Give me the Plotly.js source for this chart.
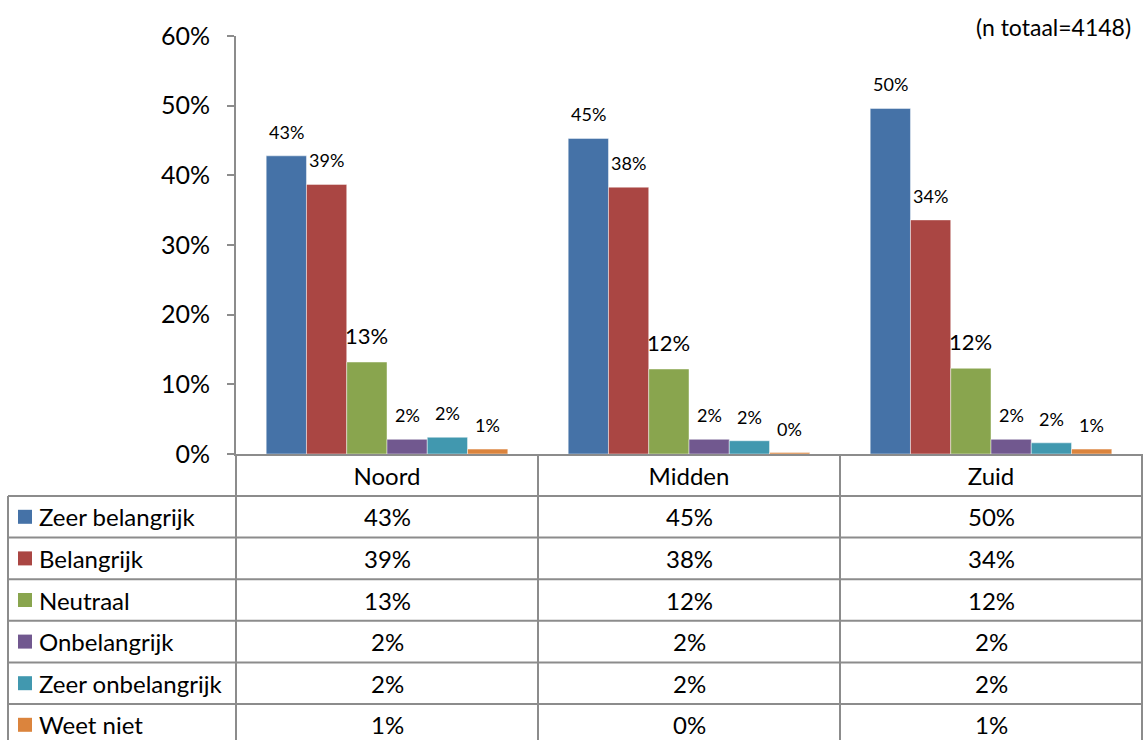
<!DOCTYPE html>
<html>
<head>
<meta charset="utf-8">
<script src="https://cdn.plot.ly/plotly-3.0.1.min.js"></script>
<style>html,body{margin:0;padding:0;background:#fff;}#chart{width:1143px;height:740px;}</style>
</head>
<body>
<div id="chart"></div>
<script>
// ---- data ----
var regions = ["Noord", "Midden", "Zuid"];
var seriesNames = ["Zeer belangrijk", "Belangrijk", "Neutraal", "Onbelangrijk", "Zeer onbelangrijk", "Weet niet"];
var zeerBelangrijk = [42.8, 45.3, 49.6];
var belangrijk = [38.7, 38.3, 33.6];
var neutraal = [13.2, 12.2, 12.3];
var onbelangrijk = [2.1, 2.1, 2.1];
var zeerOnbelangrijk = [2.4, 1.9, 1.6];
var weetNiet = [0.7, 0.2, 0.7];
var yTicks = [0, 10, 20, 30, 40, 50, 60];
var noteText = "(n totaal=4148)";

var seriesValues = [zeerBelangrijk, belangrijk, neutraal, onbelangrijk, zeerOnbelangrijk, weetNiet];
var colors = ["#4572A7", "#AA4643", "#89A54E", "#71588F", "#4198AF", "#DB843D"];

// ---- geometry of the frame ----
var FONT = "Lato, 'Open Sans', sans-serif";
var L = 236, T = 36, W = 1142 - 236, H = 454 - 36;
var bargap = 0.2;
function px(x) { return (x - L) / W; }
function py(y) { return (T + H - y) / H; }
var barW = W / regions.length * (1 - bargap) / seriesNames.length;

var traces = seriesNames.map(function (name, i) {
  return {
    type: "bar", name: name, x: regions, y: seriesValues[i],
    marker: { color: colors[i], line: { color: "rgba(255,255,255,0.45)", width: 1 } },
    hoverinfo: "x+y+name", showlegend: false
  };
});

var annotations = [];
// bar labels
seriesNames.forEach(function (name, i) {
  seriesValues[i].forEach(function (v, j) {
    annotations.push({
      x: regions[j], y: v, xref: "x", yref: "y",
      xshift: (i - (seriesNames.length - 1) / 2) * barW, yshift: (i === 2 ? 27 : 24),
      text: Math.round(v) + "%", showarrow: false, xanchor: "center", yanchor: "middle",
      font: { family: FONT, size: (i === 2 ? 22 : 18), color: "#000" }
    });
  });
});
// note
annotations.push({
  x: px(1133), y: py(27), xref: "paper", yref: "paper", xanchor: "right", yanchor: "middle",
  text: noteText, showarrow: false, font: { family: FONT, size: 23, color: "#000" }
});

// data table
var rowTop = 496, rowH = 41.6;
var colX = [236, 538, 840, 1142];
var shapes = [];
var lineStyle = { color: "#8c8c8c", width: 2 };
for (var r = 0; r <= seriesNames.length; r++) {
  var yy = rowTop + r * rowH;
  if (yy > 740) break;
  shapes.push({ type: "line", xref: "paper", yref: "paper", x0: px(8), x1: px(1142), y0: py(yy), y1: py(yy), line: lineStyle });
}
shapes.push({ type: "line", xref: "paper", yref: "paper", x0: px(8), x1: px(8), y0: py(rowTop), y1: py(742), line: lineStyle });
colX.forEach(function (cx) {
  shapes.push({ type: "line", xref: "paper", yref: "paper", x0: px(cx), x1: px(cx), y0: py(454), y1: py(742), line: lineStyle });
});

seriesNames.forEach(function (name, i) {
  var cy = rowTop + (i + 0.5) * rowH;
  shapes.push({ type: "rect", xref: "paper", yref: "paper", x0: px(18), x1: px(32), y0: py(cy - 7), y1: py(cy + 7),
    fillcolor: colors[i], line: { width: 0 } });
  annotations.push({
    x: px(37), y: py(cy), xref: "paper", yref: "paper", xanchor: "left", yanchor: "middle",
    text: name, showarrow: false, font: { family: FONT, size: 24, color: "#000" }
  });
  seriesValues[i].forEach(function (v, j) {
    annotations.push({
      x: px((colX[j] + colX[j + 1]) / 2), y: py(cy), xref: "paper", yref: "paper",
      xanchor: "center", yanchor: "middle", text: Math.round(v) + "%", showarrow: false,
      font: { family: FONT, size: 24, color: "#000" }
    });
  });
});

var layout = {
  width: 1143, height: 740,
  margin: { l: L, r: 1143 - 1142, t: T, b: 740 - 454, pad: 0 },
  paper_bgcolor: "#fff", plot_bgcolor: "#fff",
  barmode: "group", bargap: bargap, bargroupgap: 0,
  showlegend: false,
  xaxis: {
    type: "category", showline: true, linecolor: "#8c8c8c", linewidth: 2,
    showgrid: false, zeroline: false, ticks: "", ticklabelstandoff: 0,
    tickfont: { family: FONT, size: 24, color: "#000" }, fixedrange: true
  },
  yaxis: {
    range: [0, 60], tickvals: yTicks, ticktext: yTicks.map(function (t) { return t + "%"; }),
    showline: true, linecolor: "#8c8c8c", linewidth: 2, showgrid: false, zeroline: false,
    ticks: "outside", ticklen: 7, tickcolor: "#8c8c8c", tickwidth: 2, ticklabelstandoff: 12,
    tickfont: { family: FONT, size: 25, color: "#000" }, fixedrange: true
  },
  shapes: shapes,
  annotations: annotations
};

Plotly.newPlot("chart", traces, layout, { displayModeBar: false, staticPlot: true });
</script>
</body>
</html>
